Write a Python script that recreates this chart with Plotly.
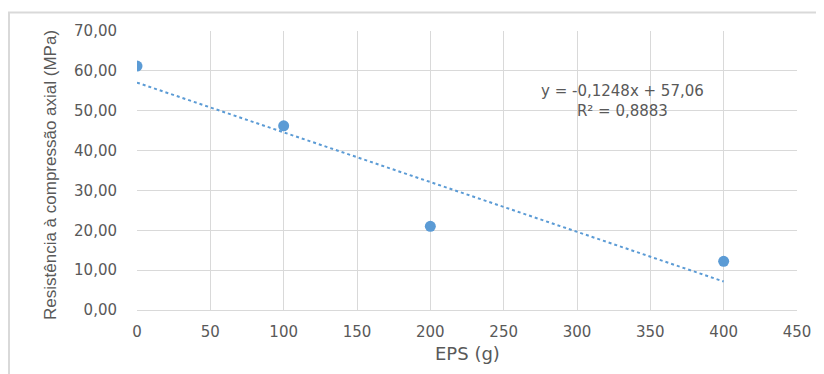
import plotly.graph_objects as go

eps_g = [0, 100, 200, 400]
resistencia_mpa = [61.2, 46.2, 21.0, 12.2]
trend_x = [0, 400]
trend_y = [57.06, 7.14]
equation_text = "y = -0,1248x + 57,06<br>R² = 0,8883"
y_ticks = [0, 10, 20, 30, 40, 50, 60, 70]
y_tick_labels = ["0,00", "10,00", "20,00", "30,00", "40,00", "50,00", "60,00", "70,00"]
x_ticks = [0, 50, 100, 150, 200, 250, 300, 350, 400, 450]

# page has an 8px body margin; work in reference pixel coords and shift
OFF = 8
W, H = 824 - OFF, 374 - OFF
L, R, T, B = 137 - OFF, 27, 31 - OFF, 64
pw, ph = W - L - R, H - T - B

def px_x(p):
    return (p - OFF - L) / pw

def px_y(p):
    return (H - B - (p - OFF)) / ph

blue = "#5b9bd5"
grey_txt = "#595959"
grid = "#d9d9d9"

fig = go.Figure()
fig.add_trace(go.Scatter(x=trend_x, y=trend_y, mode="lines",
                         line=dict(color=blue, width=2, dash="dot"),
                         hoverinfo="skip", showlegend=False))
fig.add_trace(go.Scatter(x=eps_g, y=resistencia_mpa, mode="markers",
                         marker=dict(color=blue, size=11),
                         showlegend=False))

fig.update_layout(
    width=W, height=H,
    margin=dict(l=L, r=R, t=T, b=B),
    paper_bgcolor="white", plot_bgcolor="white",
    font=dict(family="DejaVu Sans", color=grey_txt),
    xaxis=dict(range=[0, 450], tickvals=x_ticks, showgrid=True, gridcolor=grid,
               gridwidth=1, zeroline=False, showline=True, linecolor=grid,
               ticks="outside", ticklen=8, tickcolor="rgba(0,0,0,0)",
               tickfont=dict(size=15, color=grey_txt, family="DejaVu Sans")),
    yaxis=dict(range=[0, 70], tickvals=y_ticks, ticktext=y_tick_labels,
               showgrid=True, gridcolor=grid, gridwidth=1, zeroline=False,
               showline=False, ticks="outside", ticklen=16,
               tickcolor="rgba(0,0,0,0)",
               tickfont=dict(size=15, color=grey_txt, family="DejaVu Sans")),
    annotations=[
        dict(text="Resistência à compressão axial (MPa)", textangle=-90,
             xref="paper", yref="paper", x=px_x(50), y=px_y(175),
             xanchor="center", yanchor="middle",
             showarrow=False, font=dict(size=17, family="Liberation Sans", color=grey_txt)),
        dict(text="EPS (g)", xref="paper", yref="paper", x=px_x(468), y=px_y(353),
             xanchor="center", yanchor="middle",
             showarrow=False, font=dict(size=18, family="DejaVu Sans", color=grey_txt)),
        dict(text=equation_text, xref="x", yref="y", x=331, y=52.5,
             xanchor="center", yanchor="middle",
             showarrow=False, align="center",
             font=dict(size=15, family="DejaVu Sans", color=grey_txt)),
    ],
    shapes=[
        dict(type="line", xref="paper", yref="paper", x0=px_x(8), x1=px_x(823),
             y0=px_y(12.5), y1=px_y(12.5), line=dict(color=grid, width=2)),
        dict(type="line", xref="paper", yref="paper", x0=px_x(9), x1=px_x(9),
             y0=px_y(12.5), y1=px_y(374), line=dict(color=grid, width=2)),
    ],
)

fig.write_html("out.html")
